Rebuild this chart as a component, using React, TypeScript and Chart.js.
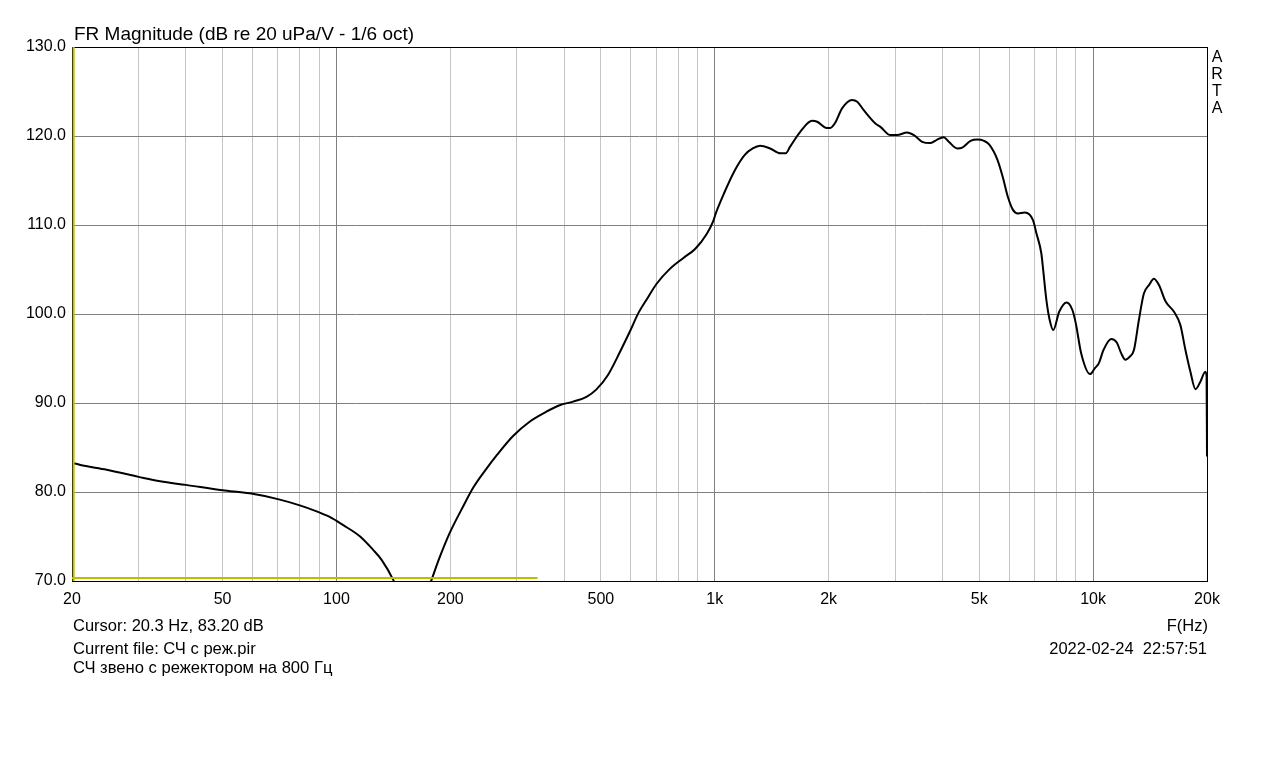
import React, { useEffect, useRef } from "react";
import { Chart, registerables } from "chart.js";

Chart.register(...registerables);

// ---- data ----
const frequencies: number[] = [
  20, 20.05, 20.3, 21.2, 24.7, 30, 34.2, 40, 50, 59, 70, 80, 89, 96, 104, 115.5, 125, 131.5, 141.4, 150,
  160, 170, 178.3, 187.6, 199, 216, 230, 249, 266, 293, 324, 358, 389, 422, 458, 486, 522, 561, 596,
  628, 660, 702, 762, 826, 887, 952, 992, 1006, 1054, 1132, 1202, 1260, 1318, 1400, 1490, 1540, 1582,
  1684, 1808, 1865, 1978, 2019, 2082, 2170, 2306, 2380, 2476, 2658, 2745, 2912, 3032, 3224, 3360,
  3532, 3716, 3872, 4028, 4155, 4374, 4510, 4744, 4940, 5150, 5310, 5590, 5770, 5948, 6140, 6328,
  6600, 6936, 7078, 7298, 7365, 7524, 7680, 7848, 8135, 8514, 8815, 9000, 9298, 9822, 10100, 10350,
  10650, 11160, 11550, 11860, 12170, 12500, 12820, 13210, 13620, 14050, 14480, 14930, 15550, 16360,
  17010, 17540, 18080, 18640, 19210, 19800, 19950, 20000,
];
const magnitudes: number[] = [
  80.9, 83.2, 83.2, 83.0, 82.5, 81.7, 81.2, 80.8, 80.2, 79.85, 79.2, 78.5, 77.8, 77.2, 76.3, 75.0, 73.5,
  72.4, 70.1, 67.5, 65.5, 67.6, 70.1, 72.7, 75.35, 78.35, 80.5, 82.6, 84.2, 86.3, 87.9, 89.0, 89.75,
  90.15, 90.7, 91.5, 93.15, 95.7, 98.0, 100.1, 101.6, 103.4, 105.1, 106.3, 107.3, 109.0, 110.5, 111.3,
  113.4, 116.2, 117.9, 118.6, 118.9, 118.6, 118.05, 118.05, 118.8, 120.5, 121.7, 121.6, 120.9, 120.9,
  121.5, 123.1, 124.05, 123.85, 122.9, 121.4, 121.0, 120.1, 120.1, 120.4, 120.1, 119.35, 119.2,
  119.6, 119.85, 119.35, 118.6, 118.7, 119.45, 119.6, 119.45, 119.05, 117.3, 115.4, 113.2, 111.7,
  111.3, 111.4, 110.55, 109.1, 106.8, 105.3, 101.6, 99.3, 98.2, 100.25, 101.3, 100.45, 98.95, 95.6,
  93.25, 93.9, 94.45, 95.95, 97.2, 96.8, 95.6, 94.85, 95.2, 95.95, 99.3, 102.3, 103.25, 103.95,
  103.25, 101.4, 100.25, 98.75, 95.95, 93.5, 91.55, 92.4, 93.5, 93.0, 84.0,
];

const cursorFreq = 20.2;
const markerStartFreq = 20;
const markerEndFreq = 340;
const markerLevel = 70.35;

const xGridValues: number[] = [
  20, 30, 40, 50, 60, 70, 80, 90, 100, 200, 300, 400, 500, 600, 700, 800, 900, 1000, 2000, 3000, 4000,
  5000, 6000, 7000, 8000, 9000, 10000, 20000,
];
const xMajorValues: number[] = [100, 1000, 10000];
const xLabelValues: number[] = [20, 50, 100, 200, 500, 1000, 2000, 5000, 10000, 20000];
const xLabelTexts: string[] = ["20", "50", "100", "200", "500", "1k", "2k", "5k", "10k", "20k"];

const yMin = 70;
const yMax = 130;
const yStep = 10;

const titleText = "FR Magnitude (dB re 20 uPa/V - 1/6 oct)";
const cursorText = "Cursor: 20.3 Hz, 83.20 dB";
const fileText = "Current file: СЧ с реж.pir";
const noteText = "СЧ звено с режектором на 800 Гц";
const axisUnitText = "F(Hz)";
const dateText = "2022-02-24  22:57:51";
const brandLetters: string[] = ["A", "R", "T", "A"];

const FONT = '"Liberation Sans", Arial, sans-serif';
const YELLOW = "#bebe00";

const textPlugin = {
  id: "artaText",
  beforeDatasetsDraw(chart: any) {
    const { ctx, chartArea } = chart;
    ctx.save();
    ctx.strokeStyle = "#000";
    ctx.lineWidth = 1;
    ctx.strokeRect(
      chartArea.left + 0.5,
      chartArea.top + 0.5,
      chartArea.right - chartArea.left,
      chartArea.bottom - chartArea.top
    );
    ctx.restore();
  },
  afterDraw(chart: any) {
    const { ctx, chartArea } = chart;
    ctx.save();
    ctx.fillStyle = "#000";
    ctx.textBaseline = "alphabetic";
    ctx.textAlign = "left";
    ctx.font = `19px ${FONT}`;
    ctx.fillText(titleText, chartArea.left + 2, 39.5);
    ctx.font = `16.5px ${FONT}`;
    ctx.fillText(cursorText, chartArea.left + 1, 631);
    ctx.font = `16.6px ${FONT}`;
    ctx.fillText(fileText, chartArea.left + 1, 654);
    ctx.fillText(noteText, chartArea.left + 1, 673);
    ctx.textAlign = "right";
    ctx.font = `16.5px ${FONT}`;
    ctx.fillText(axisUnitText, chartArea.right + 1, 631);
    ctx.fillText(dateText, chartArea.right, 654);
    ctx.textAlign = "center";
    ctx.font = `16px ${FONT}`;
    brandLetters.forEach((ch, i) => {
      ctx.fillText(ch, chartArea.right + 10, 61.5 + i * 17.3);
    });
    ctx.restore();
  },
};

export default function App() {
  const canvasRef = useRef<HTMLCanvasElement | null>(null);

  useEffect(() => {
    if (!canvasRef.current) return;
    const curve = frequencies.map((f, i) => ({ x: f, y: magnitudes[i] }));
    const chart = new Chart(canvasRef.current, {
      type: "line",
      data: {
        datasets: [
          {
            data: [
              { x: markerStartFreq, y: markerLevel },
              { x: markerEndFreq, y: markerLevel },
            ],
            borderColor: YELLOW,
            borderWidth: 2,
            pointRadius: 0,
            clip: 0,
          },
          {
            data: [
              { x: cursorFreq, y: yMin },
              { x: cursorFreq, y: yMax },
            ],
            borderColor: YELLOW,
            borderWidth: 2,
            pointRadius: 0,
            clip: 0,
          },
          {
            data: curve,
            borderColor: "#000",
            borderWidth: 2,
            pointRadius: 0,
            cubicInterpolationMode: "monotone",
            clip: 0,
          },
        ],
      },
      options: {
        animation: false,
        responsive: false,
        maintainAspectRatio: false,
        layout: { padding: { top: 47, right: 72, left: 0, bottom: 0 } },
        plugins: {
          legend: { display: false },
          tooltip: { enabled: false },
          title: { display: false },
        },
        scales: {
          x: {
            type: "logarithmic",
            min: 20,
            max: 20000,
            afterBuildTicks: (scale: any) => {
              scale.ticks = xGridValues.map((v) => ({ value: v }));
            },
            afterFit: (scale: any) => {
              scale.height = 768 - 581;
            },
            ticks: {
              autoSkip: false,
              maxRotation: 0,
              minRotation: 0,
              padding: 9,
              color: "#000",
              font: { family: FONT, size: 16 },
              callback: (value: any) => {
                const idx = xLabelValues.indexOf(Number(value));
                return idx >= 0 ? xLabelTexts[idx] : "";
              },
            },
            grid: {
              drawTicks: false,
              color: (c: any) =>
                c.tick && xMajorValues.includes(c.tick.value) ? "#808080" : "#c4c4c4",
            },
            border: { display: false },
          },
          y: {
            type: "linear",
            min: yMin,
            max: yMax,
            afterFit: (scale: any) => {
              scale.width = 72;
            },
            ticks: {
              stepSize: yStep,
              padding: 6,
              color: "#000",
              font: { family: FONT, size: 16 },
              callback: (value: any) => Number(value).toFixed(1),
            },
            grid: { drawTicks: false, color: "#808080" },
            border: { display: false },
          },
        },
      },
      plugins: [textPlugin],
    });
    return () => chart.destroy();
  }, []);

  return (
    <div style={{ position: "fixed", left: 0, top: 0, width: 1279, height: 768, background: "#fff" }}>
      <canvas ref={canvasRef} width={1279} height={768} style={{ width: 1279, height: 768, display: "block" }} />
    </div>
  );
}
